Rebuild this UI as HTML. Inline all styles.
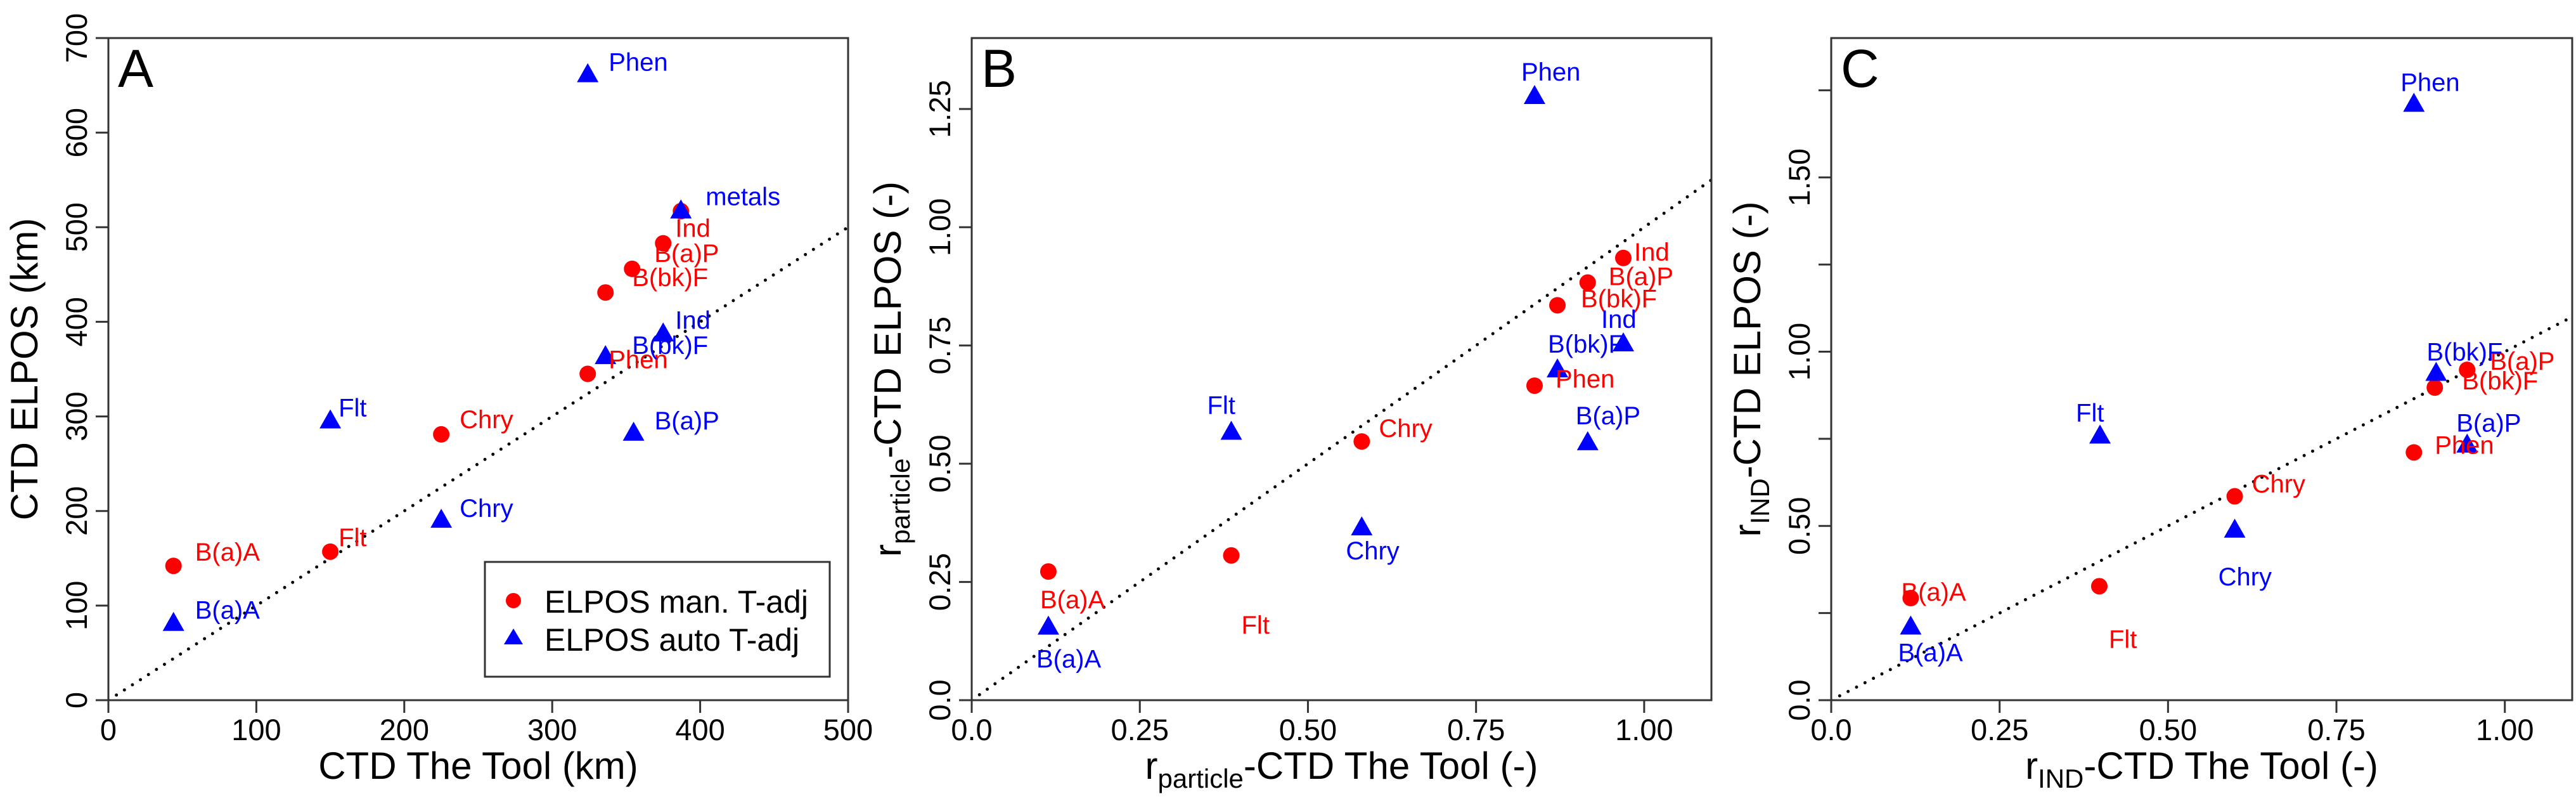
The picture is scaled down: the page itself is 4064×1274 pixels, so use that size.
<!DOCTYPE html>
<html><head><meta charset="utf-8"><style>
html,body{margin:0;padding:0;background:#fff;}
svg{display:block;font-family:"Liberation Sans",Arial,sans-serif;}
</style></head><body>
<svg id="fig" width="4064" height="1274" viewBox="0 0 4064 1274"></svg>
<script>
// ---- data ----
const labelsA_red = ["B(a)A","Flt","Chry","Phen","B(bk)F","B(a)P","Ind","metals"];
const xA_red = [44,150,225,324,336,354,375,387];
const yA_red = [142,157,281,345,431,456,483,517];
const labelsA_blue = ["B(a)A","Flt","Chry","Phen","B(bk)F","Ind","B(a)P","metals"];
const xA_blue = [44,150,225,324,336,375,355,387];
const yA_blue = [82,296,191,662,364,388,283,518];

const labelsB_red = ["B(a)A","Flt","Chry","Phen","B(bk)F","B(a)P","Ind"];
const xB_red = [0.114,0.386,0.580,0.837,0.871,0.916,0.969];
const yB_red = [0.272,0.306,0.547,0.665,0.835,0.883,0.935];
const labelsB_blue = ["B(a)A","Flt","Chry","Phen","B(bk)F","Ind","B(a)P"];
const xB_blue = [0.114,0.386,0.580,0.837,0.871,0.969,0.916];
const yB_blue = [0.156,0.568,0.366,1.278,0.700,0.755,0.546];

const labelsC_red = ["B(a)A","Flt","Chry","Phen","B(bk)F","B(a)P"];
const xC_red = [0.118,0.398,0.599,0.865,0.896,0.944];
const yC_red = [0.293,0.327,0.585,0.711,0.897,0.948];
const labelsC_blue = ["B(a)A","Flt","Chry","Phen","B(bk)F","B(a)P"];
const xC_blue = [0.118,0.399,0.599,0.865,0.898,0.944];
const yC_blue = [0.212,0.760,0.490,1.712,0.940,0.734];

const xTicksA = [0,100,200,300,400,500];
const yTicksA = [0,100,200,300,400,500,600,700];
const xTicksBC = [0,0.25,0.5,0.75,1.0];
const xTickLabelsBC = ["0.0","0.25","0.50","0.75","1.00"];
const yTicksB = [0,0.25,0.5,0.75,1.0,1.25];
const yTickLabelsB = ["0.0","0.25","0.50","0.75","1.00","1.25"];
const yTicksC = [0,0.25,0.5,0.75,1.0,1.25,1.5,1.75];
const yTickLabelsC = ["0.0","","0.50","","1.00","","1.50",""];

// label offsets (px) for annotations
const offA_red = [[34,-8],[13,-9],[29,-10],[33,-9],[42,-10],[35,-11],[19,-10],[40,-8]];
const offA_blue = [[34,-6],[13,-6],[29,-4],[33,-5],[42,-3],[19,-7],[33,-5],[39,-8]];
const offB_red = [[-13,58],[16,123],[27,-7],[33,3],[37,3],[33,4],[17,4]];
const offB_blue = [[-19,65],[-38,-28],[-25,51],[-21,-24],[-15,-26],[-35,-24],[-19,-28]];
const offC_red = [[-15,4],[15,97],[27,-6],[33,2],[43,3],[36,0]];
const offC_blue = [[-20,55],[-38,-22],[-26,88],[-21,-20],[-15,-19],[-17,-20]];

const NS="http://www.w3.org/2000/svg";
const svg=document.getElementById('fig');
function mk(tag,attrs,parent){const e=document.createElementNS(NS,tag);for(const k in attrs)e.setAttribute(k,attrs[k]);(parent||svg).appendChild(e);return e;}

function panel(p){
  const g=mk('g',{});
  
  
  const sx=v=>p.L+(v-p.x0)/(p.x1-p.x0)*(p.R-p.L);
  const sy=v=>p.B-(v-p.y0)/(p.y1-p.y0)*(p.B-p.T);
  const cp=mk('clipPath',{id:'clip'+p.id},g);
  mk('rect',{x:p.L,y:p.T,width:p.R-p.L,height:p.B-p.T},cp);
  const xe=Math.min(p.x1,p.y1);
  const ln=mk('line',{x1:sx(0),y1:sy(0),x2:sx(xe),y2:sy(xe),stroke:'#000','stroke-width':5,'stroke-dasharray':'0 15','stroke-linecap':'round','clip-path':'url(#clip'+p.id+')'},g);
  
  
  const bx=mk('rect',{x:p.L,y:p.T,width:p.R-p.L,height:p.B-p.T,fill:'none',stroke:'#333','stroke-width':3},g);
  
  
  p.xt.forEach((v,i)=>{
    mk('line',{x1:sx(v),y1:p.B,x2:sx(v),y2:p.B+20,stroke:'#333','stroke-width':3},g);
    const t=mk('text',{x:sx(v),y:1167,'font-size':47,'text-anchor':'middle',fill:'#000'},g);
    t.textContent=p.xtl[i];
    
    
  });
  p.yt.forEach((v,i)=>{
    mk('line',{x1:p.L-20,y1:sy(v),x2:p.L,y2:sy(v),stroke:'#333','stroke-width':3},g);
    if(p.ytl[i]!==""){
      const t=mk('text',{x:0,y:0,'font-size':47,'text-anchor':'middle',fill:'#000',transform:`translate(${p.L-34},${sy(v)}) rotate(-90)`},g);
      t.textContent=p.ytl[i];
      
      
    }
  });
  const xt=mk('text',{x:(p.L+p.R)/2,y:1228,'font-size':60,'text-anchor':'middle',fill:'#000'},g);
  xt.innerHTML=p.xTitle;
  
  
  const yt=mk('text',{x:0,y:0,'font-size':60,'text-anchor':'middle',fill:'#000',transform:`translate(${p.L-112},${(p.T+p.B)/2}) rotate(-90)`},g);
  yt.innerHTML=p.yTitle;
  
  
  const lt=mk('text',{x:p.L+15,y:137,'font-size':84,fill:'#000'},g);
  lt.textContent=p.id;
  
  
  p.rx.forEach((v,i)=>{
    const c=mk('circle',{cx:sx(v),cy:sy(p.ry[i]),r:13,fill:'#f00'},g);
    
    
  });
  p.bx.forEach((v,i)=>{
    const cx=sx(v),cy=sy(p.by[i]);
    const tr=mk('polygon',{points:`${cx},${cy-17} ${cx-17},${cy+13} ${cx+17},${cy+13}`,fill:'#00f'},g);
    
    
  });
  p.rl.forEach((s,i)=>{
    const t=mk('text',{x:sx(p.rx[i])+p.ro[i][0],y:sy(p.ry[i])+p.ro[i][1],'font-size':40,fill:'#f00'},g);
    t.textContent=s;
    
    
  });
  p.bl.forEach((s,i)=>{
    const t=mk('text',{x:sx(p.bx[i])+p.bo[i][0],y:sy(p.by[i])+p.bo[i][1],'font-size':40,fill:'#00f'},g);
    t.textContent=s;
    
    
  });
}
const sub=(s)=>`<tspan font-size="42" dy="14">${s}</tspan><tspan dy="-14">`;
panel({id:'A',L:171,R:1338,T:60,B:1104,x0:0,x1:500,y0:0,y1:700,
  xt:xTicksA,xtl:xTicksA.map(String),yt:yTicksA,ytl:yTicksA.map(String),
  xTitle:'CTD The Tool (km)',yTitle:'CTD ELPOS (km)',
  rx:xA_red,ry:yA_red,rl:labelsA_red.slice(0,7),ro:offA_red,
  bx:xA_blue,by:yA_blue,bl:labelsA_blue,bo:offA_blue});
panel({id:'B',L:1533,R:2700,T:60,B:1104,x0:0,x1:1.1,y0:0,y1:1.4,
  xt:xTicksBC,xtl:xTickLabelsBC,yt:yTicksB,ytl:yTickLabelsB,
  xTitle:'r'+sub('particle')+'-CTD The Tool (-)</tspan>',yTitle:'r'+sub('particle')+'-CTD ELPOS (-)</tspan>',
  rx:xB_red,ry:yB_red,rl:labelsB_red,ro:offB_red,
  bx:xB_blue,by:yB_blue,bl:labelsB_blue,bo:offB_blue});
panel({id:'C',L:2889,R:4058,T:60,B:1104,x0:0,x1:1.1,y0:0,y1:1.9,
  xt:xTicksBC,xtl:xTickLabelsBC,yt:yTicksC,ytl:yTickLabelsC,
  xTitle:'r'+sub('IND')+'-CTD The Tool (-)</tspan>',yTitle:'r'+sub('IND')+'-CTD ELPOS (-)</tspan>',
  rx:xC_red,ry:yC_red,rl:labelsC_red,ro:offC_red,
  bx:xC_blue,by:yC_blue,bl:labelsC_blue,bo:offC_blue});
const lg=mk('g',{});


mk('rect',{x:765,y:886,width:544,height:181,fill:'#fff',stroke:'#333','stroke-width':3},lg);
mk('circle',{cx:810,cy:947,r:12,fill:'#f00'},lg);
mk('polygon',{points:'810,991 795,1016 825,1016',fill:'#00f'},lg);
const l1=mk('text',{x:859,y:966,'font-size':50,fill:'#000'},lg);l1.textContent='ELPOS man. T-adj';


const l2=mk('text',{x:859,y:1026,'font-size':50,fill:'#000'},lg);l2.textContent='ELPOS auto T-adj';


</script>
</body></html>
